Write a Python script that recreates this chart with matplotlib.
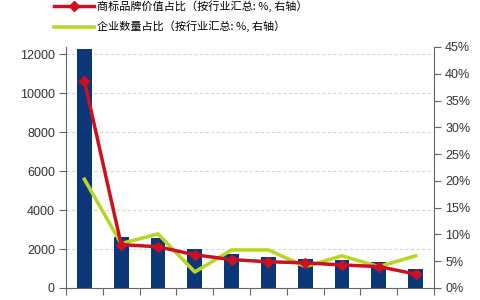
import matplotlib.pyplot as plt
from matplotlib.ticker import FuncFormatter

plt.rcParams['font.family'] = ['Liberation Sans', 'Noto Sans CJK SC', 'DejaVu Sans']

# 数据：柱为左轴数值，两条线为右轴百分比
categories = ["1", "2", "3", "4", "5", "6", "7", "8", "9", "10"]
bar_values = [12250, 2600, 2550, 2000, 1750, 1600, 1500, 1450, 1350, 950]
brand_share = [38.7, 8.1, 7.7, 6.2, 5.3, 4.9, 4.7, 4.3, 4.0, 2.6]
firm_share = [20.3, 8.3, 10.1, 3.0, 7.1, 7.1, 4.0, 6.0, 4.0, 6.0]
left_ticks = [0, 2000, 4000, 6000, 8000, 10000, 12000]
right_ticks = [0, 5, 10, 15, 20, 25, 30, 35, 40, 45]

navy = '#0b3778'
red = '#cc1020'
green = '#b9d52a'

fig = plt.figure(figsize=(4.8, 3.0), dpi=100)
ax = fig.add_axes([66/480, 12/300, (434-66)/480, (288-47)/300])
ax2 = ax.twinx()

x = list(range(len(categories)))
ax.bar(x, bar_values, width=0.4, color=navy, zorder=2)
ax.set_xlim(-0.5, 9.5)
ax.set_ylim(0, 12360)
ax.set_yticks(left_ticks)
ax.set_yticklabels([str(v) for v in left_ticks], fontsize=9, color='#333333')
ax.grid(axis='y', linestyle=(0, (3, 2)), color='#d6d6d6', linewidth=0.8, zorder=0)
ax.set_xticks([i - 0.5 for i in range(len(categories) + 1)])
ax.set_xticklabels([])
ax.tick_params(axis='x', length=5, color='#666666', width=0.8)
ax.tick_params(axis='y', length=5, color='#666666', width=0.8, pad=3)
for s in ['top', 'right']:
    ax.spines[s].set_visible(False)
for s in ['left', 'bottom']:
    ax.spines[s].set_color('#666666')
    ax.spines[s].set_linewidth(0.8)

l1, = ax2.plot(x, brand_share, color=red, linewidth=2.5, marker='D', markersize=5.5,
               label='商标品牌价值占比（按行业汇总: %, 右轴）', zorder=4)
l2, = ax2.plot(x, firm_share, color=green, linewidth=2.6,
               label='企业数量占比（按行业汇总: %, 右轴）', zorder=3)
ax2.set_ylim(0, 45)
ax2.set_yticks(right_ticks)
ax2.yaxis.set_major_formatter(FuncFormatter(lambda v, p: f'{v:.0f}%'))
ax2.tick_params(axis='y', length=5, color='#666666', width=0.8, labelsize=9,
                labelcolor='#333333', pad=3)
for s in ['top', 'left', 'bottom']:
    ax2.spines[s].set_visible(False)
ax2.spines['right'].set_color('#666666')
ax2.spines['right'].set_linewidth(0.8)

fig.legend(handles=[l1, l2], loc='upper left', bbox_to_anchor=(48/480, 1.018),
           frameon=False, handlelength=3.6, handletextpad=0.3,
           labelspacing=0.8, borderpad=0,
           prop={'family': ['Noto Sans CJK SC', 'DejaVu Sans'], 'size': 8})

fig.savefig('out.png', dpi=100)
